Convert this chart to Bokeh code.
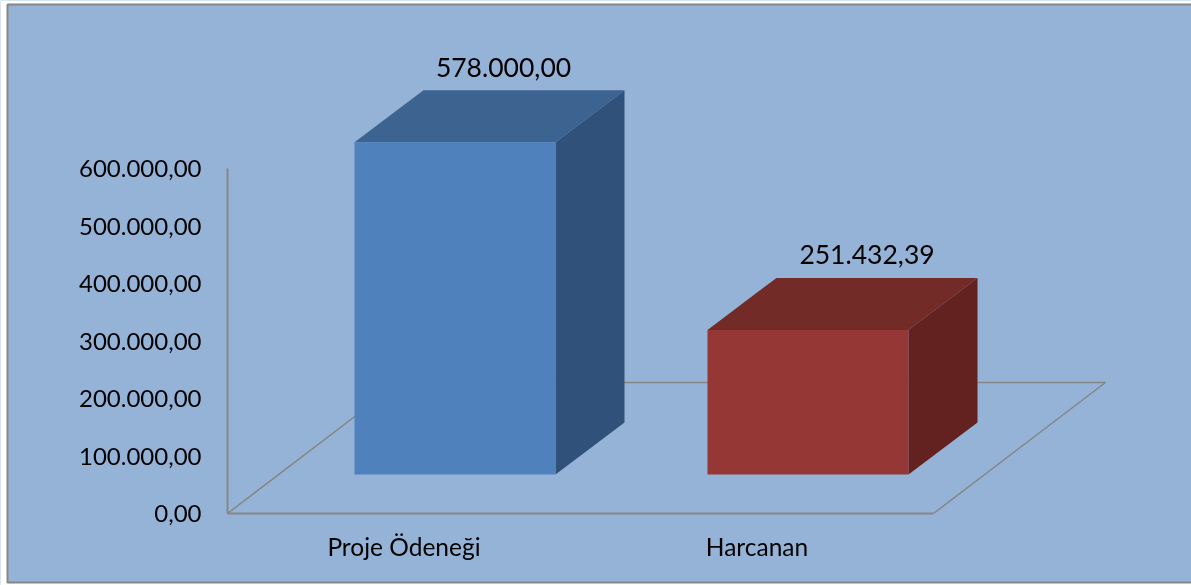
from bokeh.plotting import figure
from bokeh.models import LinearAxis, FixedTicker, Range1d
from bokeh.core.properties import value
from bokeh.embed import file_html
from bokeh.resources import INLINE

categories = ["Proje Ödeneği", "Harcanan"]
values = [578000.00, 251432.39]
value_labels = ["578.000,00", "251.432,39"]
tick_values = [0, 100000, 200000, 300000, 400000, 500000, 600000]
tick_labels = ["0,00", "100.000,00", "200.000,00", "300.000,00", "400.000,00", "500.000,00", "600.000,00"]
front_colors = ["#4F81BD", "#953735"]
top_colors = ["#3D6391", "#722B27"]
side_colors = ["#30527A", "#632120"]

W, H = 1191, 585
X0, Y0 = 227, 513            # pixel position of the axes origin
PX_PER_CAT = 353
PX_PER_VAL = 345 / 600000
BG, GRID, FONT = "#95B3D7", "#868686", "Lato"

def ux(px):  # pixel length to x units
    return px / PX_PER_CAT
def uy(px):  # pixel length to y units
    return px / PX_PER_VAL

p = figure(width=W, height=H, toolbar_location=None, output_backend="svg",
           x_range=Range1d(-ux(X0), ux(W - X0)),
           y_range=Range1d(-uy(H - Y0), uy(Y0)),
           background_fill_color=BG, border_fill_color=None,
           min_border=0, x_axis_type=None, y_axis_type=None)
p.grid.visible = False
p.outline_line_color = None
p.styles = {"position": "fixed", "left": "0px", "top": "0px"}

# Chart area: white strip left/top/bottom, background panel with gray border
l, t, b = -ux(X0 - 7), uy(Y0 - 4), -uy(582 - Y0)
r = ux(W - X0)
p.quad(left=-ux(X0), right=l, bottom=-uy(H - Y0), top=uy(Y0), color="white", line_color=None)
p.quad(left=-ux(X0), right=r, bottom=t, top=uy(Y0), color="white", line_color=None)
p.quad(left=-ux(X0), right=r, bottom=-uy(H - Y0), top=b, color="white", line_color=None)
p.line([r, l, l, r], [t, t, b, b], line_color=GRID, line_width=2)

# Floor of the 3D plot
n = len(categories)
fdx, fdy = ux(172), uy(131)
p.line([0, fdx, n + fdx, n], [0, fdy, fdy, 0], line_color=GRID, line_width=1.5)

# Bars
half = ux(100.5)
offx, offy = ux(51), uy(39)
ddx, ddy = ux(69), uy(52)
lab_dx = [48.5, 59]
for i, v in enumerate(values):
    cx = i + 0.5 + offx
    x0, x1 = cx - half, cx + half
    y0, y1 = offy, offy + v
    p.patch([x1, x1 + ddx, x1 + ddx, x1], [y0, y0 + ddy, y1 + ddy, y1], color=side_colors[i], line_color=None)
    p.patch([x0, x1, x1 + ddx, x0 + ddx], [y1, y1, y1 + ddy, y1 + ddy], color=top_colors[i], line_color=None)
    p.quad(left=x0, right=x1, bottom=y0, top=y1, color=front_colors[i], line_color=None)
    p.text([cx + ux(lab_dx[i])], [y1 + ddy + uy(23)], text=[value_labels[i]],
           text_font=value(FONT), text_font_size="26.5px", text_color="black",
           text_align="center", text_baseline="middle")

# Axes
yaxis = LinearAxis(fixed_location=0, bounds=(0, 600000), ticker=FixedTicker(ticks=tick_values),
                   major_label_overrides=dict(zip(tick_values, tick_labels)),
                   axis_line_color=GRID, axis_line_width=2,
                   major_tick_line_color=None, minor_tick_line_color=None,
                   major_tick_in=0, major_tick_out=0,
                   major_label_standoff=26, major_label_text_font=FONT,
                   major_label_text_font_size="24px", major_label_text_color="black")
p.add_layout(yaxis, "left")

cat_pos = [i + 0.5 for i in range(n)]
xaxis = LinearAxis(fixed_location=0, bounds=(0, n), ticker=FixedTicker(ticks=cat_pos),
                   major_label_overrides=dict(zip(cat_pos, categories)),
                   axis_line_color=GRID, axis_line_width=2,
                   major_tick_line_color=None, minor_tick_line_color=None,
                   major_tick_in=0, major_tick_out=0,
                   major_label_standoff=18, major_label_text_font=FONT,
                   major_label_text_font_size="24.5px", major_label_text_color="black")
p.add_layout(xaxis, "below")

open("out.html", "w").write(file_html(p, INLINE))
